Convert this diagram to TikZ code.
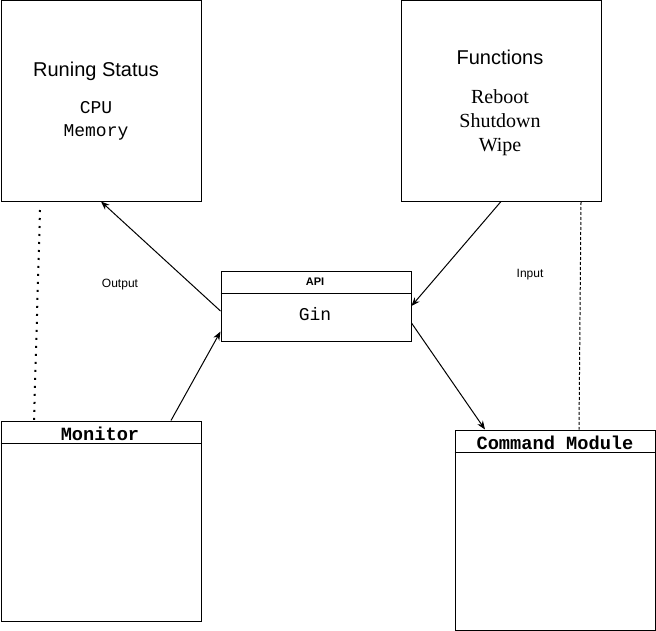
\documentclass[tikz,border=0pt]{standalone}
\usepackage{fontspec}
\setmainfont{Liberation Sans}
\setmonofont{Liberation Mono}
\newfontfamily\serifface{Liberation Serif}
\usetikzlibrary{arrows.meta}

\tikzset{
	box/.style={draw, line width=0.75pt, inner sep=0pt, anchor=north west},
	bigbox/.style={box, minimum width=150pt, minimum height=150pt},
	title/.style={font=\fontsize{15}{18}\selectfont},
	header/.style={font=\ttfamily\bfseries\fontsize{14}{16}\selectfont},
	flow/.style={-{Stealth[length=6.5pt,width=5pt]}, line width=0.75pt},
	note/.style={font=\fontsize{9}{11}\selectfont}
}

\begin{document}
\begin{tikzpicture}[x=0.75pt, y=-0.75pt]
	\useasboundingbox (0,0) rectangle (656,631);
	% the five boxes
	\node[bigbox] (status) at (0.5,0.5) {};
	\node[bigbox] (functions) at (400.5,0.5) {};
	\node[box, minimum width=142.5pt, minimum height=52.5pt] (api) at (220.5,270.5) {};
	\node[bigbox] (monitor) at (0.5,420.5) {};
	\node[bigbox] (command) at (454.5,429.5) {};
	% header lines
	\draw[line width=0.75pt] ([yshift=-17.25pt]api.north west) -- ([yshift=-17.25pt]api.north east);
	\draw[line width=0.75pt] ([yshift=-17.25pt]monitor.north west) -- ([yshift=-17.25pt]monitor.north east);
	\draw[line width=0.75pt] ([yshift=-17.25pt]command.north west) -- ([yshift=-17.25pt]command.north east);
	% texts
	\node[title] (statustitle) at (96,71) {Runing Status};
	\node[align=center, font=\ttfamily\fontsize{13.5}{17}\selectfont] (statusitems) at (96,121) {CPU\\Memory};
	\node[title] (functionstitle) at (500,57) {Functions};
	\node[align=center, font=\serifface\fontsize{15}{18}\selectfont] (functionitems) at (500,123) {Reboot\\Shutdown\\Wipe};
	\node[font=\bfseries\fontsize{8.25}{10}\selectfont] (apititle) at (315,282) {API};
	\node[font=\ttfamily\fontsize{13.5}{16}\selectfont] (gin) at (315,314) {Gin};
	\node[header] (monitortitle) at (100,434) {Monitor};
	\node[header] (commandtitle) at (555,443) {Command Module};
	\node[note] (output) at (120,285) {Output};
	\node[note] (input) at (530,275) {Input};
	% connectors
	\draw[flow] ([yshift=-3.75pt]api.west) -- (status.south);
	\draw[flow] ([xshift=52.5pt]monitor.north) -- ([yshift=7.5pt]api.south west);
	\draw[flow] (functions.south) -- (api.east);
	\draw[flow] ([yshift=-12.75pt]api.east) -- ([xshift=-52.5pt]command.north);
	\coordinate (dotstart) at (40,210);
	\coordinate (dashstart) at (581,202);
	\draw[line width=1.5pt, dash pattern=on 1.5pt off 4.5pt] (dotstart) -- ([xshift=-50.25pt]monitor.north);
	\draw[line width=0.75pt, dash pattern=on 2.25pt off 1.5pt] (dashstart) -- ([xshift=18pt]command.north);
\end{tikzpicture}
\end{document}
